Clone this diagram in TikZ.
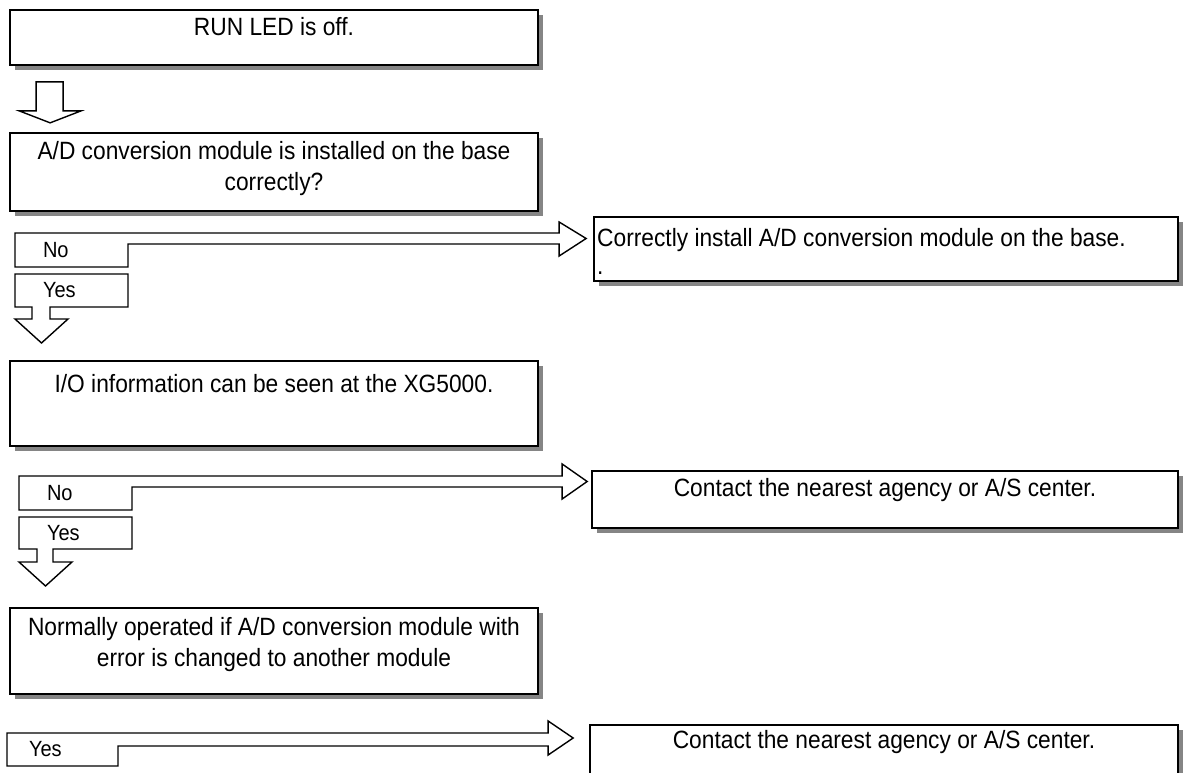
\documentclass[tikz,border=0pt]{standalone}
\usepackage{fontspec}
\setmainfont[FakeStretch=0.91]{Liberation Sans}
\usetikzlibrary{calc,shadows}
\definecolor{shadowgray}{HTML}{858585}
\tikzset{
  box/.style={draw,line width=1.7pt,fill=white,inner sep=0pt,
    drop shadow={shadow xshift=5pt,shadow yshift=-5pt,fill=shadowgray,opacity=1}},
  txt/.style={inner sep=0pt,align=center,font=\fontsize{25}{31}\selectfont},
  lbl/.style={anchor=north west,inner ysep=0pt,inner xsep=28pt,outer sep=0pt,
    text width=57pt,align=left,font=\fontsize{22}{26}\selectfont},
  outline/.style={draw,line width=1.4pt,line join=miter}
}
\begin{document}
\begin{tikzpicture}[x=1pt,y=-1pt]
  \useasboundingbox (0,0) rectangle (1184,773);
  % Checks, left column
  \node[box,minimum width=528pt,minimum height=55pt] (run) at (274,37.5) {};
  \node[txt] (runtxt) at (274,27) {RUN LED is off.};
  \node[box,minimum width=528pt,minimum height=78pt] (base) at (274,172) {};
  \node[txt] (basetxt) at (274,168.5) {A/D conversion module is installed on the base\\correctly?};
  \node[box,minimum width=528pt,minimum height=85pt] (io) at (274,403.5) {};
  \node[txt] (iotxt) at (274,384) {I/O information can be seen at the XG5000.};
  \node[box,minimum width=528pt,minimum height=86pt] (swap) at (274,651) {};
  \node[txt] (swaptxt) at (274,645) {Normally operated if A/D conversion module with\\error is changed to another module};
  % Actions, right column
  \node[box,minimum width=584pt,minimum height=64pt] (fix) at (886,249) {};
  \node[txt,anchor=north west,align=left] (fixtxt) at (597,228) {Correctly install A/D conversion module on the base.\\[-3pt].};
  \node[box,minimum width=586pt,minimum height=57pt] (agency) at (885,499.5) {};
  \node[txt] (agencytxt) at (885,490) {Contact the nearest agency or A/S center.};
  \node[box,minimum width=588pt,minimum height=100pt] (agencyb) at (884,775) {};
  \node[txt] (agencybtxt) at (884,742) {Contact the nearest agency or A/S center.};
  % Answer labels
  \node[lbl,minimum height=34pt] (no1) at (15,233) {No};
  \node[lbl,minimum height=33pt] (yes1) at (15,274) {Yes};
  \node[lbl,minimum height=34pt] (no2) at (19,476) {No};
  \node[lbl,minimum height=32pt] (yes2) at (19,517) {Yes};
  \node[lbl,minimum height=33pt,inner xsep=22pt,text width=67pt] (yes3) at (7,733) {Yes};
  % Block arrows
  \draw[outline] ($(run.south west)+(27,16)$) -- ++(27,0) -- ++(0,29) -- ++(18,0)
    -- ++(-31,12) -- ++(-31,-12) -- ++(17,0) -- cycle;
  \draw[outline] (no1.south west) -- (no1.north west)
    -- ($(fix.west |- no1.north)+(-34,0)$) -- ++(0,-11) -- ++(27,16.5)
    -- ++(-27,17.5) -- ++(0,-12) -- ($(no1.north east)+(0,11)$)
    -- (no1.south east) -- cycle;
  \draw[outline] (yes1.north west) -- (yes1.north east) -- (yes1.south east)
    -- ++(-78,0) -- ++(0,12) -- ++(18,0) -- ++(-26.5,24) -- ++(-26.5,-24)
    -- ++(17,0) -- ++(0,-12) -- (yes1.south west) -- cycle;
  \draw[outline] (no2.south west) -- (no2.north west)
    -- ($(agency.west |- no2.north)+(-29,0)$) -- ++(0,-12) -- ++(25,17.5)
    -- ++(-25,17.5) -- ++(0,-12) -- ($(no2.north east)+(0,11)$)
    -- (no2.south east) -- cycle;
  \draw[outline] (yes2.north west) -- (yes2.north east) -- (yes2.south east)
    -- ++(-79,0) -- ++(0,13) -- ++(19,0) -- ++(-26.5,24) -- ++(-26.5,-24)
    -- ++(18,0) -- ++(0,-13) -- (yes2.south west) -- cycle;
  \draw[outline] (yes3.south west) -- (yes3.north west)
    -- ($(agencyb.west |- yes3.north)+(-41,0)$) -- ++(0,-12) -- ++(25,17)
    -- ++(-25,17) -- ++(0,-9) -- ($(yes3.north east)+(0,13)$)
    -- (yes3.south east) -- cycle;
\end{tikzpicture}
\end{document}
